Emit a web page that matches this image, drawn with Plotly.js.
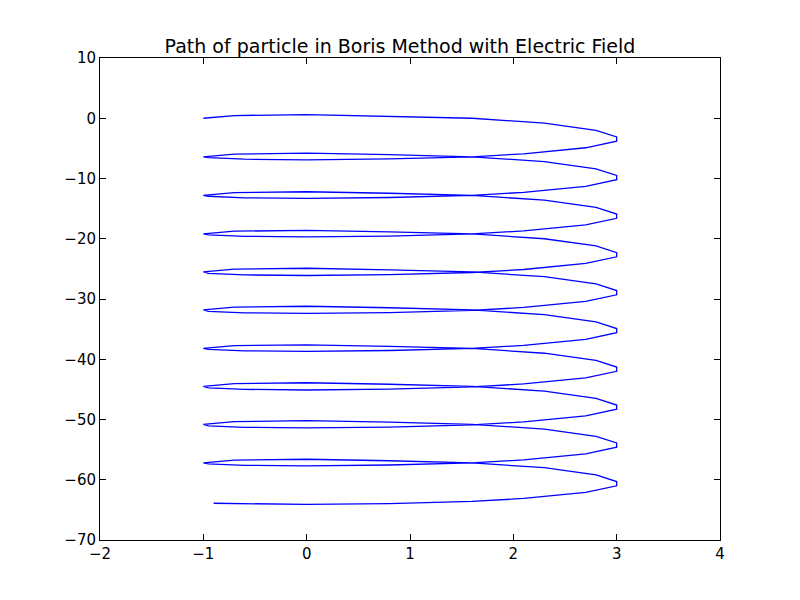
<!DOCTYPE html>
<html>
<head>
<script src="https://cdn.plot.ly/plotly-3.0.1.min.js"></script>
<style>body{margin:0;background:#fff}</style>
</head>
<body>
<div id="chart" style="width:800px;height:600px"></div>
<script>
// x positions along each loop
var xLoop = [-1, -0.7, 0, 0.8, 1.6, 2.3, 2.8, 3, 3, 2.7, 2.1, 1.6, 0.8, 0, -0.6, -0.95];
var xLast = [-1, -0.7, 0, 0.8, 1.6, 2.3, 2.8, 3, 3, 2.7, 2.1, 1.6, 0.8, 0, -0.6, -0.9];

var y0 = [0, 0.45, 0.6, 0.35, 0, -0.8, -2, -3.1, -3.8, -4.9, -5.9, -6.4, -6.75, -6.9, -6.8, -6.55];
var y1 = [-6.4, -5.95, -5.8, -6.05, -6.4, -7.2, -8.4, -9.5, -10.2, -11.3, -12.3, -12.8, -13.15, -13.3, -13.2, -12.95];
var y2 = [-12.8, -12.35, -12.2, -12.45, -12.8, -13.6, -14.8, -15.9, -16.6, -17.7, -18.7, -19.2, -19.55, -19.7, -19.6, -19.35];
var y3 = [-19.2, -18.75, -18.6, -18.85, -19.2, -20, -21.2, -22.3, -23, -24.1, -25.1, -25.6, -25.95, -26.1, -26, -25.75];
var y4 = [-25.5, -25.05, -24.9, -25.15, -25.5, -26.3, -27.5, -28.6, -29.3, -30.4, -31.4, -31.9, -32.25, -32.4, -32.3, -32.05];
var y5 = [-31.8, -31.35, -31.2, -31.45, -31.8, -32.6, -33.8, -34.9, -35.6, -36.7, -37.7, -38.2, -38.55, -38.7, -38.6, -38.35];
var y6 = [-38.2, -37.75, -37.6, -37.85, -38.2, -39, -40.2, -41.3, -42, -43.1, -44.1, -44.6, -44.95, -45.1, -45, -44.75];
var y7 = [-44.5, -44.05, -43.9, -44.15, -44.5, -45.3, -46.5, -47.6, -48.3, -49.4, -50.4, -50.9, -51.25, -51.4, -51.3, -51.05];
var y8 = [-50.8, -50.35, -50.2, -50.45, -50.8, -51.6, -52.8, -53.9, -54.6, -55.7, -56.7, -57.2, -57.55, -57.7, -57.6, -57.35];
var y9 = [-57.2, -56.75, -56.6, -56.85, -57.2, -58, -59.2, -60.3, -61, -62.1, -63.1, -63.6, -63.95, -64.1, -64.0, -63.9];

var xs = [], ys = [];
[y0, y1, y2, y3, y4, y5, y6, y7, y8, y9].forEach(function (yy, i) {
  var xx = i === 9 ? xLast : xLoop;
  xs = xs.concat(xx);
  ys = ys.concat(yy);
});

var trace = {
  x: xs,
  y: ys,
  mode: 'lines',
  type: 'scatter',
  line: { color: '#0000ff', width: 1.3 }
};

var axisCommon = {
  showgrid: false,
  zeroline: false,
  showline: true,
  mirror: 'ticks',
  linecolor: '#000',
  linewidth: 1,
  ticks: 'inside',
  ticklen: 6,
  tickcolor: '#000',
  tickfont: { family: 'DejaVu Sans', size: 15, color: '#000' }
};

var layout = {
  width: 800,
  height: 600,
  margin: { l: 100, r: 80, t: 58, b: 60 },
  paper_bgcolor: '#fff',
  plot_bgcolor: '#fff',
  showlegend: false,
  title: {
    text: 'Path of particle in Boris Method with Electric Field',
    font: { family: 'DejaVu Sans', size: 19, color: '#000' },
    x: 0.5, xanchor: 'center', y: 0.912, yanchor: 'bottom'
  },
  xaxis: Object.assign({}, axisCommon, { range: [-2, 4], dtick: 1 }),
  yaxis: Object.assign({}, axisCommon, { range: [-70, 10], dtick: 10 })
};

Plotly.newPlot('chart', [trace], layout, { displayModeBar: false });
</script>
</body>
</html>
